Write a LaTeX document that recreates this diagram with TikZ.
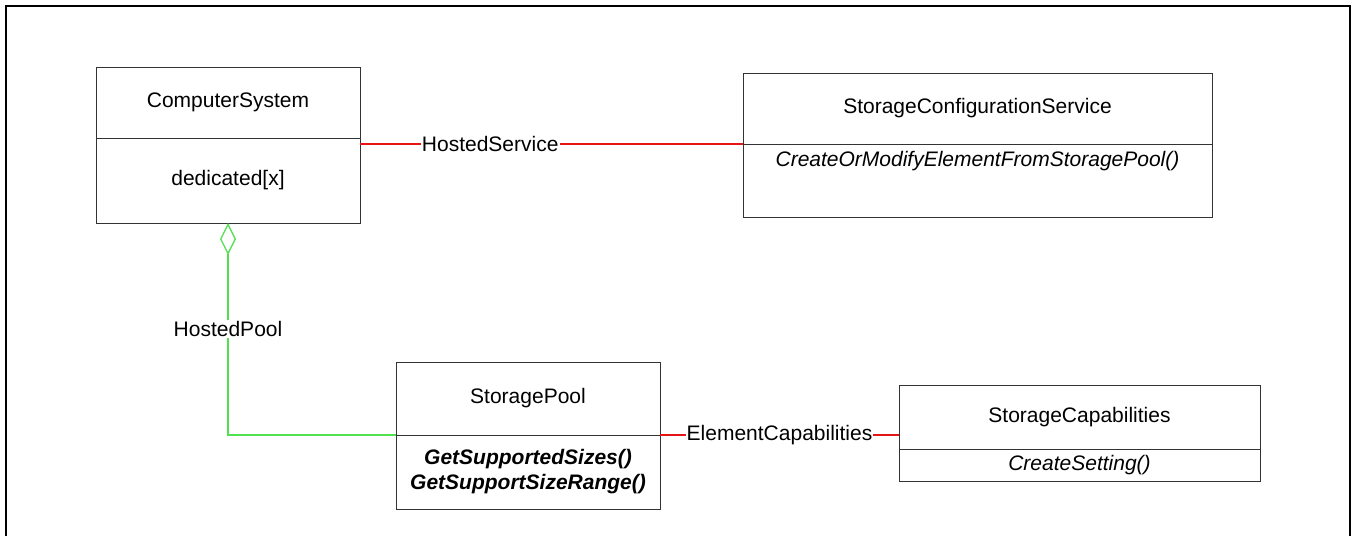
\documentclass[tikz,border=0pt]{standalone}
\usepackage{fontspec}
\setmainfont{Liberation Sans}
\usetikzlibrary{positioning,arrows.meta}

\definecolor{hostred}{RGB}{230,20,20}
\definecolor{poolgreen}{RGB}{80,225,80}

\begin{document}
\begin{tikzpicture}[
			x=1pt, y=-1pt,
			node distance=0pt,
			every node/.style={
					font=\fontsize{21}{25}\selectfont
				},
			classbox/.style={
					draw=black!80,
					line width=1pt,
					outer sep=0pt,
					inner sep=2pt,
					align=center
				},
			opsbox/.style={
					classbox,
					font=\fontsize{21}{25}\selectfont\itshape
				},
			assoc/.style={line width=1.3pt},
			assoclabel/.style={fill=white, text=black, inner sep=1pt}
		]

		\useasboundingbox (0,0) rectangle (1352,536);
		\draw[line width=2pt] (6,536) -- (6,6) -- (1350,6) -- (1350,536);

		\node (system) [classbox,
			minimum width=264pt, minimum height=71pt] at (228,102.5)
		{ComputerSystem};
		\node (systemops) [classbox, below=of system,
			minimum width=264pt, minimum height=85pt]
		{dedicated[x]};

		\node (service) [classbox,
			minimum width=469pt, minimum height=71pt] at (977.5,108.5)
		{StorageConfigurationService};
		\node (serviceops) [opsbox, below=of service,
			minimum width=469pt, minimum height=73pt,
			text height=15pt, text depth=43pt]
		{CreateOrModifyElementFromStoragePool()};

		\node (pool) [classbox,
			minimum width=264pt, minimum height=73pt] at (528,398.5)
		{StoragePool};
		\node (poolops) [opsbox, below=of pool,
			minimum width=264pt, minimum height=74pt,
			font=\fontsize{21}{25}\selectfont\bfseries\itshape]
		{GetSupportedSizes()\\GetSupportSizeRange()};

		\node (caps) [classbox,
			minimum width=361pt, minimum height=64pt] at (1079.5,417)
		{StorageCapabilities};
		\node (capsops) [opsbox, below=of caps,
			minimum width=361pt, minimum height=32pt]
		{CreateSetting()};

		\draw[assoc, hostred] (systemops.east |- serviceops.north)
		-- node[assoclabel, pos=0.34] {HostedService} (serviceops.north west);
		\draw[assoc, hostred] (poolops.north east)
		-- node[assoclabel] {ElementCapabilities} (poolops.north east -| caps.west);
		\draw[assoc, poolgreen, -{Diamond[open, length=32pt, width=16pt]}]
		(poolops.north west) -| node[assoclabel, pos=0.75] {HostedPool} (systemops.south);

	\end{tikzpicture}
\end{document}
